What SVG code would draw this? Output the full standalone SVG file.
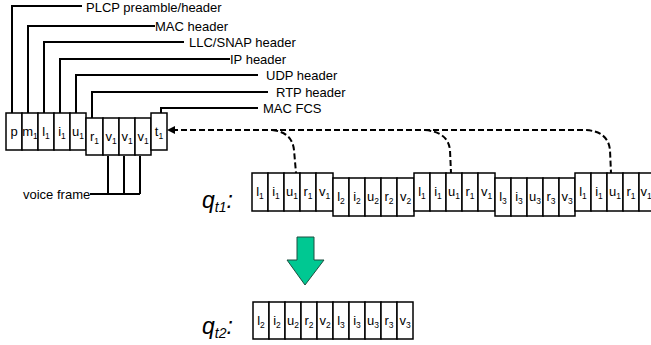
<svg xmlns="http://www.w3.org/2000/svg" width="651" height="345" viewBox="0 0 651 345">
<defs>
<style>
.cell{fill:#fff;stroke:#000;stroke-width:1.5}
.ct{font-family:"Liberation Sans",Arial,sans-serif;font-size:13px;text-anchor:middle;fill:#000}
.sb{font-size:8.5px}
.lbl{font-family:"Liberation Sans",Arial,sans-serif;font-size:13px;fill:#000}
.lead{fill:none;stroke:#000;stroke-width:2}
.dash{fill:none;stroke:#000;stroke-width:2;stroke-dasharray:6 3}
.q{font-family:"Liberation Sans",Arial,sans-serif;font-style:italic;fill:#000}
</style>
</defs>
<rect width="651" height="345" fill="#fff"/>

<g id="connectors">
<path class="lead" d="M12,113 V6 H82"/>
<path class="lead" d="M28,113 V26 H155"/>
<path class="lead" d="M44,113 V42 H184"/>
<path class="lead" d="M60,113 V59 H230"/>
<path class="lead" d="M76,113 V75 H258"/>
<path class="lead" d="M92,118 V92 H268"/>
<path class="lead" d="M161,113 V108 H258"/>
<path class="lead" d="M108,156 V194 M124,156 V194 M140,156 V194 M90,194 H140"/>
<path class="dash" d="M172,130 H585 Q608,131 610,150 L611,173"/>
<path class="dash" d="M272,130 Q292,132 294,150 L296,173"/>
<path class="dash" d="M425,130 Q448,132 450,150 L451,173"/>
<path d="M167,130 L175,126 L175,134 z" fill="#000"/>
</g>

<g id="labels" class="lbl">
<text x="86" y="12">PLCP preamble/header</text>
<text x="155" y="31">MAC header</text>
<text x="189" y="47">LLC/SNAP header</text>
<text x="230" y="64">IP header</text>
<text x="266" y="80">UDP header</text>
<text x="276" y="97">RTP header</text>
<text x="263" y="113">MAC FCS</text>
<text x="23" y="199">voice frame</text>
</g>

<g id="frame-left">
<rect class="cell" x="6" y="113" width="16" height="37"/>
<rect class="cell" x="22" y="113" width="16" height="37"/>
<rect class="cell" x="38" y="113" width="16" height="37"/>
<rect class="cell" x="54" y="113" width="16" height="37"/>
<rect class="cell" x="70" y="113" width="16" height="37"/>
<rect class="cell" x="86" y="118" width="17" height="37"/>
<rect class="cell" x="103" y="118" width="16" height="37"/>
<rect class="cell" x="119" y="118" width="16" height="37"/>
<rect class="cell" x="135" y="118" width="16" height="37"/>
<rect class="cell" x="151" y="113" width="16" height="37"/>
<text class="ct" x="14" y="136">p</text>
<text class="ct" x="30" y="136">m<tspan class="sb" dy="3">1</tspan></text>
<text class="ct" x="46" y="136">l<tspan class="sb" dy="3">1</tspan></text>
<text class="ct" x="62" y="136">i<tspan class="sb" dy="3">1</tspan></text>
<text class="ct" x="78" y="136">u<tspan class="sb" dy="3">1</tspan></text>
<text class="ct" x="94.5" y="141">r<tspan class="sb" dy="3">1</tspan></text>
<text class="ct" x="111" y="141">v<tspan class="sb" dy="3">1</tspan></text>
<text class="ct" x="127" y="141">v<tspan class="sb" dy="3">1</tspan></text>
<text class="ct" x="143" y="141">v<tspan class="sb" dy="3">1</tspan></text>
<text class="ct" x="159" y="136">t<tspan class="sb" dy="3">1</tspan></text>
</g>

<g id="qt1-label">
<text class="q" x="202" y="208" font-size="23">q<tspan font-size="14" dy="4">t1</tspan><tspan font-size="23" dy="-4">:</tspan></text>
</g>

<g id="qt1-frame1">
<rect class="cell" x="252" y="173" width="16" height="38"/>
<rect class="cell" x="268" y="173" width="16" height="38"/>
<rect class="cell" x="284" y="173" width="16" height="38"/>
<rect class="cell" x="300" y="173" width="16" height="38"/>
<rect class="cell" x="316" y="173" width="17" height="38"/>
<text class="ct" x="260" y="196">l<tspan class="sb" dy="3">1</tspan></text>
<text class="ct" x="276" y="196">i<tspan class="sb" dy="3">1</tspan></text>
<text class="ct" x="292" y="196">u<tspan class="sb" dy="3">1</tspan></text>
<text class="ct" x="308" y="196">r<tspan class="sb" dy="3">1</tspan></text>
<text class="ct" x="324.5" y="196">v<tspan class="sb" dy="3">1</tspan></text>
</g>

<g id="qt1-frame2">
<rect class="cell" x="333" y="178" width="16" height="38"/>
<rect class="cell" x="349" y="178" width="16" height="38"/>
<rect class="cell" x="365" y="178" width="16" height="38"/>
<rect class="cell" x="381" y="178" width="16" height="38"/>
<rect class="cell" x="397" y="178" width="17" height="38"/>
<text class="ct" x="341" y="201">l<tspan class="sb" dy="3">2</tspan></text>
<text class="ct" x="357" y="201">i<tspan class="sb" dy="3">2</tspan></text>
<text class="ct" x="373" y="201">u<tspan class="sb" dy="3">2</tspan></text>
<text class="ct" x="389" y="201">r<tspan class="sb" dy="3">2</tspan></text>
<text class="ct" x="405.5" y="201">v<tspan class="sb" dy="3">2</tspan></text>
</g>

<g id="qt1-frame3">
<rect class="cell" x="414" y="173" width="16" height="38"/>
<rect class="cell" x="430" y="173" width="16" height="38"/>
<rect class="cell" x="446" y="173" width="16" height="38"/>
<rect class="cell" x="462" y="173" width="16" height="38"/>
<rect class="cell" x="478" y="173" width="17" height="38"/>
<text class="ct" x="422" y="196">l<tspan class="sb" dy="3">1</tspan></text>
<text class="ct" x="438" y="196">i<tspan class="sb" dy="3">1</tspan></text>
<text class="ct" x="454" y="196">u<tspan class="sb" dy="3">1</tspan></text>
<text class="ct" x="470" y="196">r<tspan class="sb" dy="3">1</tspan></text>
<text class="ct" x="486.5" y="196">v<tspan class="sb" dy="3">1</tspan></text>
</g>

<g id="qt1-frame4">
<rect class="cell" x="495" y="178" width="16" height="38"/>
<rect class="cell" x="511" y="178" width="16" height="38"/>
<rect class="cell" x="527" y="178" width="16" height="38"/>
<rect class="cell" x="543" y="178" width="16" height="38"/>
<rect class="cell" x="559" y="178" width="16" height="38"/>
<text class="ct" x="503" y="201">l<tspan class="sb" dy="3">3</tspan></text>
<text class="ct" x="519" y="201">i<tspan class="sb" dy="3">3</tspan></text>
<text class="ct" x="535" y="201">u<tspan class="sb" dy="3">3</tspan></text>
<text class="ct" x="551" y="201">r<tspan class="sb" dy="3">3</tspan></text>
<text class="ct" x="567" y="201">v<tspan class="sb" dy="3">3</tspan></text>
</g>

<g id="qt1-frame5">
<rect class="cell" x="575" y="173" width="16" height="38"/>
<rect class="cell" x="591" y="173" width="16" height="38"/>
<rect class="cell" x="607" y="173" width="16" height="38"/>
<rect class="cell" x="623" y="173" width="16" height="38"/>
<rect class="cell" x="639" y="173" width="17" height="38"/>
<text class="ct" x="583" y="196">l<tspan class="sb" dy="3">1</tspan></text>
<text class="ct" x="599" y="196">i<tspan class="sb" dy="3">1</tspan></text>
<text class="ct" x="615" y="196">u<tspan class="sb" dy="3">1</tspan></text>
<text class="ct" x="631" y="196">r<tspan class="sb" dy="3">1</tspan></text>
<text class="ct" x="646" y="196">v<tspan class="sb" dy="3">1</tspan></text>
</g>

<g id="green-arrow">
<path d="M297,237 H314 V260 H324 L305,285 L287,260 H297 Z" fill="#00c892" stroke="#1f4f40" stroke-width="1"/>
</g>

<g id="qt2-label">
<text class="q" x="202" y="334" font-size="23">q<tspan font-size="14" dy="4">t2</tspan><tspan font-size="23" dy="-4">:</tspan></text>
</g>

<g id="qt2-frame">
<rect class="cell" x="253" y="302" width="16" height="37"/>
<rect class="cell" x="269" y="302" width="16" height="37"/>
<rect class="cell" x="285" y="302" width="16" height="37"/>
<rect class="cell" x="301" y="302" width="16" height="37"/>
<rect class="cell" x="317" y="302" width="16" height="37"/>
<rect class="cell" x="333" y="302" width="16" height="37"/>
<rect class="cell" x="349" y="302" width="16" height="37"/>
<rect class="cell" x="365" y="302" width="16" height="37"/>
<rect class="cell" x="381" y="302" width="16" height="37"/>
<rect class="cell" x="397" y="302" width="16" height="37"/>
<text class="ct" x="261" y="325">l<tspan class="sb" dy="3">2</tspan></text>
<text class="ct" x="277" y="325">i<tspan class="sb" dy="3">2</tspan></text>
<text class="ct" x="293" y="325">u<tspan class="sb" dy="3">2</tspan></text>
<text class="ct" x="309" y="325">r<tspan class="sb" dy="3">2</tspan></text>
<text class="ct" x="325" y="325">v<tspan class="sb" dy="3">2</tspan></text>
<text class="ct" x="341" y="325">l<tspan class="sb" dy="3">3</tspan></text>
<text class="ct" x="357" y="325">i<tspan class="sb" dy="3">3</tspan></text>
<text class="ct" x="373" y="325">u<tspan class="sb" dy="3">3</tspan></text>
<text class="ct" x="389" y="325">r<tspan class="sb" dy="3">3</tspan></text>
<text class="ct" x="405" y="325">v<tspan class="sb" dy="3">3</tspan></text>
</g>
</svg>
